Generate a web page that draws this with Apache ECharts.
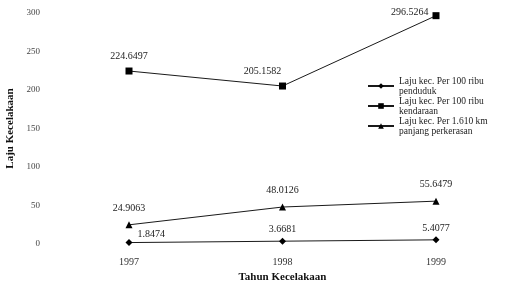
<!DOCTYPE html>
<html>
<head>
<meta charset="utf-8">
<script src="https://cdn.jsdelivr.net/npm/echarts@6/dist/echarts.min.js"></script>
<style>
  html, body { margin: 0; padding: 0; background: #fff; }
  #chart { width: 508px; height: 283px; }
</style>
</head>
<body>
<div id="chart"></div>
<script>
var chart = echarts.init(document.getElementById('chart'));
var fontFam = '"Liberation Serif", "DejaVu Serif", serif';
var inkColor = '#1a1a1a';

// data
var years = ['1997', '1998', '1999'];
var perPenduduk = [1.8474, 3.6681, 5.4077];
var perKendaraan = [224.6497, 205.1582, 296.5264];
var perPerkerasan = [24.9063, 48.0126, 55.6479];
var seriesNames = [
    'Laju kec. Per 100 ribu\npenduduk',
    'Laju kec. Per 100 ribu\nkendaraan',
    'Laju kec. Per 1.610 km\npanjang perkerasan'
];
var yTicks = [0, 50, 100, 150, 200, 250, 300];

function valText(p) {
    return p.value.toFixed(4);
}

option = {
    backgroundColor: '#fff',
    animation: false,
    color: [inkColor, inkColor, inkColor],
    textStyle: { fontFamily: fontFam },
    grid: {
        left: 129,
        right: 72,
        top: 13,
        bottom: 39,
        outerBoundsMode: 'none'
    },
    legend: {
        orient: 'vertical',
        left: 362,
        top: 71,
        itemWidth: 26,
        itemHeight: 7,
        itemGap: 0,
        textStyle: {
            color: '#222',
            fontSize: 9.5,
            fontFamily: fontFam,
            lineHeight: 10
        },
        data: seriesNames
    },
    xAxis: {
        type: 'category',
        boundaryGap: false,
        data: years,
        name: 'Tahun Kecelakaan',
        nameLocation: 'middle',
        nameGap: 23,
        nameTextStyle: {
            color: '#111',
            fontSize: 11,
            fontWeight: 'bold',
            fontFamily: fontFam
        },
        axisLine: { show: false },
        axisTick: { show: false },
        axisLabel: {
            color: '#333',
            fontSize: 10,
            margin: 13,
            fontFamily: fontFam
        },
        splitLine: { show: false }
    },
    yAxis: {
        type: 'value',
        min: 0,
        max: 300,
        interval: 50,
        name: 'Laju Kecelakaan',
        nameLocation: 'middle',
        nameGap: 112,
        nameTextStyle: {
            color: '#111',
            fontSize: 11,
            fontWeight: 'bold',
            fontFamily: fontFam
        },
        axisLine: { show: false },
        axisTick: { show: false },
        splitLine: { show: false },
        axisLabel: {
            color: '#444',
            fontSize: 9,
            margin: 89,
            fontFamily: fontFam,
            formatter: function (v) {
                return yTicks.indexOf(v) >= 0 ? String(v) : '';
            }
        }
    },
    series: [
        {
            name: seriesNames[0],
            type: 'line',
            data: [
                { value: perPenduduk[0], label: { position: 'right', offset: [2, -8] } },
                perPenduduk[1],
                perPenduduk[2]
            ],
            symbol: 'diamond',
            symbolSize: 7,
            lineStyle: { width: 1, color: inkColor },
            itemStyle: { color: '#000' },
            label: {
                show: true,
                position: 'top',
                distance: 3,
                color: '#222',
                fontSize: 10,
                fontFamily: fontFam,
                formatter: valText
            }
        },
        {
            name: seriesNames[1],
            type: 'line',
            data: [
                perKendaraan[0],
                { value: perKendaraan[1], label: { offset: [-20, 0] } },
                { value: perKendaraan[2], label: { position: 'left', offset: [2, -3] } }
            ],
            symbol: 'rect',
            symbolSize: 7,
            lineStyle: { width: 1, color: inkColor },
            itemStyle: { color: '#000' },
            label: {
                show: true,
                position: 'top',
                distance: 6,
                color: '#222',
                fontSize: 10,
                fontFamily: fontFam,
                formatter: valText
            }
        },
        {
            name: seriesNames[2],
            type: 'line',
            data: perPerkerasan,
            symbol: 'triangle',
            symbolSize: 7,
            lineStyle: { width: 1, color: inkColor },
            itemStyle: { color: '#000' },
            label: {
                show: true,
                position: 'top',
                distance: 8,
                color: '#222',
                fontSize: 10,
                fontFamily: fontFam,
                formatter: valText
            }
        }
    ]
};

chart.setOption(option);
</script>
</body>
</html>
